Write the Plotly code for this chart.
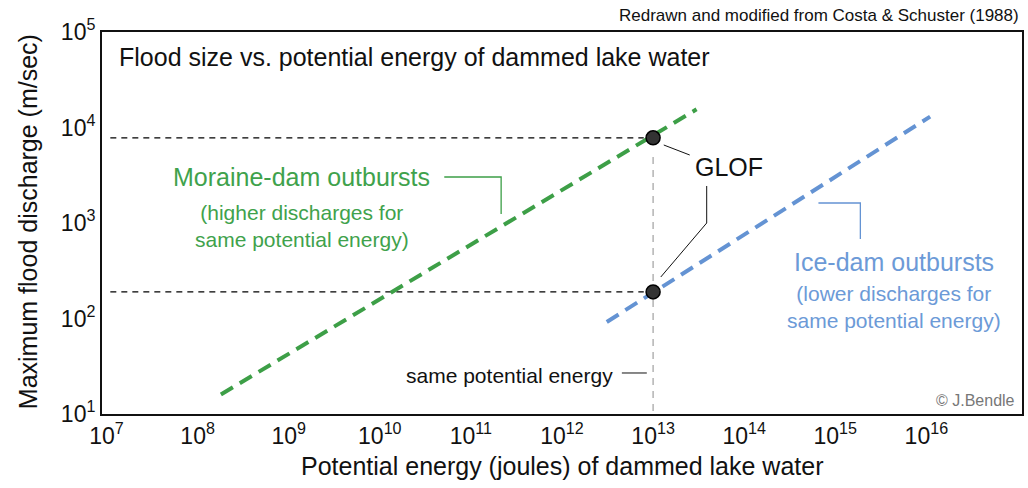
import plotly.graph_objects as go

# ---- data -------------------------------------------------------------
energy_exponents = [7, 8, 9, 10, 11, 12, 13, 14, 15, 16]
discharge_exponents = [1, 2, 3, 4, 5]

# trend lines (potential energy in joules, peak discharge)
moraine_energy = [1.8e8, 3.0e13]
moraine_discharge = [16, 1.55e4]
ice_energy = [3.1e12, 1.1e16]
ice_discharge = [92, 1.3e4]

# two GLOF examples with the same potential energy
glof_energy = [1e13, 1e13]
glof_discharge = [7800, 190]

GREEN = "#3d9f47"
GREEN_TXT = "#3fa24c"
BLUE = "#6493d3"
BLUE_TXT = "#6c9ad7"
FONT = "Liberation Sans, Arial, Helvetica, sans-serif"

# plot-area geometry in page pixels
L, R, T, B = 102, 1024, 32, 414
W, H = 1028, 488


def px(x):
    return (x - L) / (R - L)


def py(y):
    return (B - y) / (B - T)


fig = go.Figure()

# reference lines from each GLOF point back to the discharge axis
for q in glof_discharge:
    fig.add_trace(go.Scatter(
        x=[1.1e7, 7.9e12], y=[q, q], mode="lines",
        line=dict(color="#000000", width=1.2, dash="6px,5px"),
        hoverinfo="skip", showlegend=False))

# vertical "same potential energy" line
fig.add_trace(go.Scatter(
    x=[glof_energy[0], glof_energy[0]], y=[4900, 10], mode="lines",
    line=dict(color="#a0a0a0", width=1.2, dash="7px,6px"),
    hoverinfo="skip", showlegend=False))

fig.add_trace(go.Scatter(
    x=moraine_energy, y=moraine_discharge, mode="lines",
    line=dict(color=GREEN, width=4, dash="14px,8px"),
    name="Moraine-dam outbursts", showlegend=False))

fig.add_trace(go.Scatter(
    x=ice_energy, y=ice_discharge, mode="lines",
    line=dict(color=BLUE, width=4, dash="14px,8px"),
    name="Ice-dam outbursts", showlegend=False))

fig.add_trace(go.Scatter(
    x=glof_energy, y=glof_discharge, mode="markers",
    marker=dict(size=14, color="#333333", line=dict(color="#000000", width=1.5)),
    name="GLOF", showlegend=False))

# leader lines
leaders = [
    ([445, 502, 502], [177, 177, 214], GREEN, 1.3),
    ([820, 862, 862], [203, 203, 239], BLUE, 1.3),
    ([665, 691], [145, 155], "#111111", 1),
    ([708, 708, 662], [186, 223, 277], "#111111", 1),
    ([623, 648], [373, 373], "#111111", 1),
]
shapes = []
for xs, ys, col, w in leaders:
    path = "M " + " L ".join(f"{px(a):.5f},{py(b):.5f}" for a, b in zip(xs, ys))
    shapes.append(dict(type="path", path=path, xref="paper", yref="paper",
                       line=dict(color=col, width=w)))

annotations = [
    dict(text="Flood size vs. potential energy of dammed lake water",
         x=px(117), y=py(57), xanchor="left", yanchor="middle",
         font=dict(size=25, color="#111111")),
    dict(text="Redrawn and modified from Costa & Schuster (1988)",
         x=px(1023), y=py(15), xanchor="right", yanchor="middle",
         font=dict(size=17, color="#111111")),
    dict(text="© J.Bendle", x=px(1019), y=py(400), xanchor="right",
         yanchor="middle", font=dict(size=16, color="#777777")),
    dict(text="Moraine-dam outbursts", x=px(302), y=py(177),
         xanchor="center", yanchor="middle",
         font=dict(size=25, color=GREEN_TXT)),
    dict(text="(higher discharges for<br>same potential energy)",
         x=px(302), y=py(226), xanchor="center", yanchor="middle",
         font=dict(size=21, color=GREEN_TXT)),
    dict(text="GLOF", x=px(730), y=py(167), xanchor="center",
         yanchor="middle", font=dict(size=25, color="#111111")),
    dict(text="Ice-dam outbursts", x=px(896), y=py(262), xanchor="center",
         yanchor="middle", font=dict(size=25, color=BLUE_TXT)),
    dict(text="(lower discharges for<br>same potential energy)",
         x=px(896), y=py(307), xanchor="center", yanchor="middle",
         font=dict(size=21, color=BLUE_TXT)),
    dict(text="same potential energy", x=px(616), y=py(375),
         xanchor="right", yanchor="middle",
         font=dict(size=21, color="#111111")),
    # axis titles
    dict(text="Potential energy (joules) of dammed lake water",
         x=px(563), y=py(466), xanchor="center", yanchor="middle",
         font=dict(size=25, color="#111111")),
    dict(text="Maximum flood discharge (m/sec)", textangle=-90,
         x=px(28), y=py(222), xanchor="center", yanchor="middle",
         font=dict(size=25, color="#111111")),
]
for a in annotations:
    a.update(xref="paper", yref="paper", showarrow=False)

fig.update_layout(
    width=W, height=H,
    margin=dict(l=L, r=W - R, t=T, b=H - B),
    paper_bgcolor="white", plot_bgcolor="white",
    font=dict(family=FONT, color="#111111"),
    shapes=shapes, annotations=annotations,
    xaxis=dict(
        type="log", range=[6.95, 17.05],
        tickvals=[10 ** e for e in energy_exponents],
        ticktext=[f"10<sup>{e}</sup>" for e in energy_exponents],
        tickfont=dict(size=23), ticks="", showgrid=False, zeroline=False,
        showline=True, linecolor="#111111", linewidth=2, mirror=True,
    ),
    yaxis=dict(
        type="log", range=[1, 5],
        tickvals=[10 ** e for e in discharge_exponents],
        ticktext=[f"10<sup>{e}</sup>" for e in discharge_exponents],
        tickfont=dict(size=23), ticks="", showgrid=False, zeroline=False,
        showline=True, linecolor="#111111", linewidth=2, mirror=True,
    ),
)

fig.write_html("out.html")
